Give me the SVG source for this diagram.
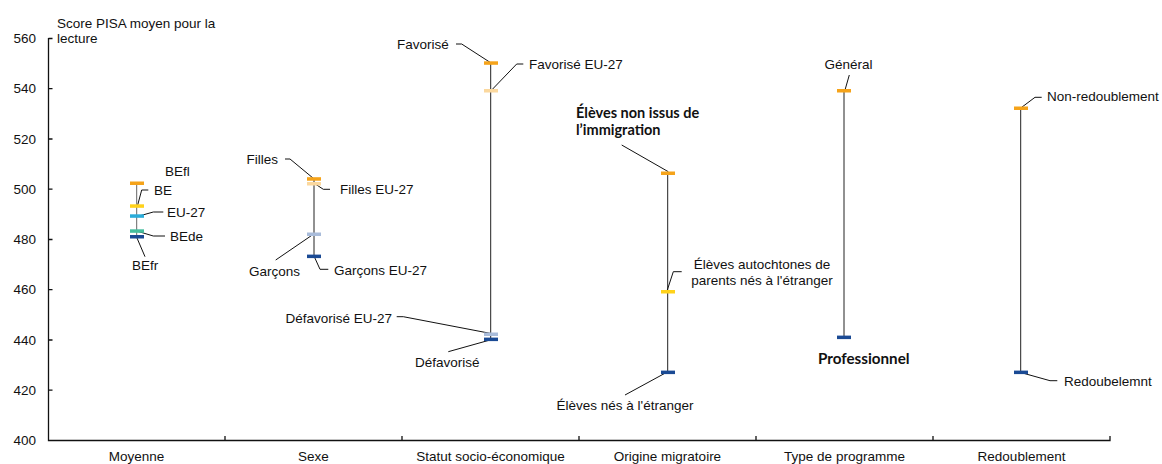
<svg xmlns="http://www.w3.org/2000/svg" width="1162" height="464" viewBox="0 0 1162 464">
<style>
text{font-family:"Liberation Sans",Arial,sans-serif;font-size:13.5px;fill:#111}
.b{font-family:Lato,"Open Sans","Liberation Sans",sans-serif;font-weight:bold;font-size:14.5px}
.r{text-anchor:end}.m{text-anchor:middle}
.ax{stroke:#111;stroke-width:1.3;fill:none}
.rng{stroke:#222;stroke-width:1;fill:none}
.ld{stroke:#111;stroke-width:1;fill:none}
.o{fill:#F5A31A}.y{fill:#FFD21A}.c{fill:#2AACD9}.t{fill:#45BE9E}.d{fill:#1A4A94}.lo{fill:#FBD89E}.lb{fill:#A9BCDA}
</style>
<g id="axes">
<path class="ax" d="M48.5 38 V440.5 H1110 V436"/>
<path class="ax" d="M48.5 38.5h4M48.5 88.7h4M48.5 139h4M48.5 189.2h4M48.5 239.5h4M48.5 289.7h4M48.5 340h4M48.5 390.2h4M225 440v-4M402 440v-4M579 440v-4M756 440v-4M933 440v-4"/>
<text class="r" x="36" y="43">560</text>
<text class="r" x="36" y="93">540</text>
<text class="r" x="36" y="144">520</text>
<text class="r" x="36" y="194">500</text>
<text class="r" x="36" y="244">480</text>
<text class="r" x="36" y="294">460</text>
<text class="r" x="36" y="345">440</text>
<text class="r" x="36" y="395">420</text>
<text class="r" x="36" y="445">400</text>
<text x="57" y="28">Score PISA moyen pour la</text>
<text x="57" y="43">lecture</text>
<text class="m" x="136.5" y="461">Moyenne</text>
<text class="m" x="313.5" y="461">Sexe</text>
<text class="m" x="490.5" y="461">Statut socio-économique</text>
<text class="m" x="667.5" y="461">Origine migratoire</text>
<text class="m" x="844.5" y="461">Type de programme</text>
<text class="m" x="1021.5" y="461">Redoublement</text>
</g>
<g id="connectors">
<path class="rng" d="M136.7 183.3V237" style="stroke:#666"/>
<path class="rng" d="M314 179V256.5"/>
<path class="rng" d="M490.7 63V339.5"/>
<path class="rng" d="M667.7 173V372.5"/>
<path class="rng" d="M844 90.7V337.5"/>
<path class="rng" d="M1020.7 108V372.5"/>
<path class="ld" d="M137.7 205L141.7 190H148.3"/>
<path class="ld" d="M136.7 216.7L153.3 212H163.3"/>
<path class="ld" d="M136.7 231L153.3 236H165"/>
<path class="ld" d="M136.7 237.3L145 256.7"/>
<path class="ld" d="M285 159H290L313.3 178.3"/>
<path class="ld" d="M313.3 182.7L323.3 189.3H330"/>
<path class="ld" d="M275.7 260L313.3 234.3"/>
<path class="ld" d="M314.3 256.7L320 269.3H328.3"/>
<path class="ld" d="M456 44H461.7L490 62.3"/>
<path class="ld" d="M491.7 90L516.7 64H523.3"/>
<path class="ld" d="M396.7 316.7H403.3L490 333.3"/>
<path class="ld" d="M448.3 351.7L490 340"/>
<path class="ld" d="M621.7 145L668.3 171.7"/>
<path class="ld" d="M667.3 290L673.3 271.7H681.7"/>
<path class="ld" d="M625 395L666.7 372.3"/>
<path class="ld" d="M849.3 75L845 90"/>
<path class="ld" d="M1021.7 107.3L1035 97.3H1041.7"/>
<path class="ld" d="M1020 372.3L1050 380.7H1057.3"/>
</g>
<g id="moyenne">
<rect class="o" x="130" y="181.5" width="14" height="3.5"/>
<rect class="y" x="130" y="204.3" width="14" height="3.5"/>
<rect class="c" x="130" y="214.3" width="14" height="3.5"/>
<rect class="t" x="130" y="229.3" width="14" height="3.5"/>
<rect class="d" x="130" y="235" width="14" height="3.5"/>
<text x="165" y="176">BEfl</text>
<text x="154" y="195">BE</text>
<text x="167" y="216.5">EU-27</text>
<text x="170" y="241">BEde</text>
<text x="132" y="270">BEfr</text>
</g>
<g id="sexe">
<rect class="o" x="307" y="177.2" width="14" height="3.5"/>
<rect class="lo" x="307" y="182" width="14" height="3.5"/>
<rect class="lb" x="307" y="232.5" width="14" height="3.5"/>
<rect class="d" x="307" y="254.6" width="14" height="3.5"/>
<text x="246.5" y="164">Filles</text>
<text x="340" y="194">Filles EU-27</text>
<text x="249" y="276">Garçons</text>
<text x="334" y="275">Garçons EU-27</text>
</g>
<g id="statut">
<rect class="o" x="484" y="61.3" width="14" height="3.5"/>
<rect class="lo" x="484" y="89" width="14" height="3.5"/>
<rect class="lb" x="484" y="332.5" width="14" height="3.5"/>
<rect class="d" x="484" y="337.6" width="14" height="3.5"/>
<text x="397" y="48.5">Favorisé</text>
<text x="529" y="68.5">Favorisé EU-27</text>
<text class="r" x="392" y="323">Défavorisé EU-27</text>
<text x="415" y="367">Défavorisé</text>
</g>
<g id="origine">
<rect class="o" x="661" y="171.5" width="14" height="3.5"/>
<rect class="y" x="661" y="290" width="14" height="3.5"/>
<rect class="d" x="661" y="370.6" width="14" height="3.5"/>
<text class="b" x="576" y="118">Élèves non issus de</text>
<text class="b" x="576" y="135">l’immigration</text>
<text class="m" x="762" y="269">Élèves autochtones de</text>
<text class="m" x="762" y="285">parents nés à l'étranger</text>
<text class="m" x="625" y="410">Élèves nés à l'étranger</text>
</g>
<g id="programme">
<rect class="o" x="837" y="89" width="14" height="3.5"/>
<rect class="d" x="837" y="335.6" width="14" height="3.5"/>
<text x="824.5" y="68.5">Général</text>
<text class="b" x="818" y="364" style="font-size:15.2px">Professionnel</text>
</g>
<g id="redoublement">
<rect class="o" x="1014" y="106.5" width="14" height="3.5"/>
<rect class="d" x="1014" y="370.6" width="14" height="3.5"/>
<text x="1047" y="101">Non-redoublement</text>
<text x="1064" y="386">Redoubelemnt</text>
</g>
</svg>
